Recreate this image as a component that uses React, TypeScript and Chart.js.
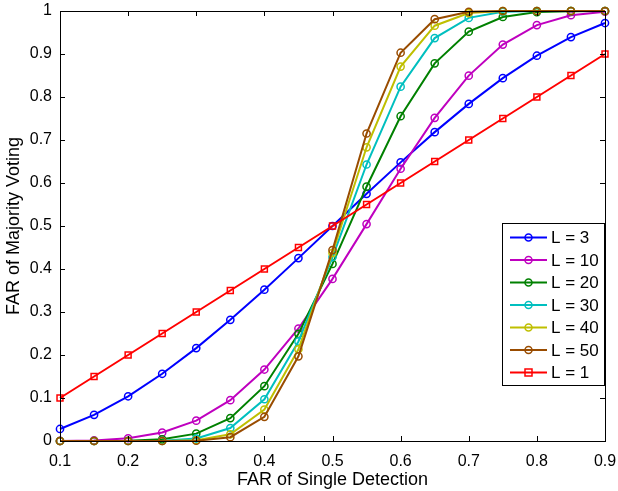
import React, { useEffect, useRef } from "react";
import { Chart, registerables } from "chart.js";

Chart.register(...registerables);

const xValues = [0.1, 0.15, 0.2, 0.25, 0.3, 0.35, 0.4, 0.45, 0.5, 0.55, 0.6, 0.65, 0.7, 0.75, 0.8, 0.85, 0.9];
const seriesL3 = [0.028, 0.0608, 0.104, 0.1563, 0.216, 0.2818, 0.352, 0.4253, 0.5, 0.5748, 0.648, 0.7183, 0.784, 0.8438, 0.896, 0.9393, 0.972];
const seriesL10 = [0.0001, 0.0014, 0.0064, 0.0197, 0.0473, 0.0949, 0.1662, 0.2616, 0.377, 0.5044, 0.6331, 0.7515, 0.8497, 0.9219, 0.9672, 0.9901, 0.9984];
const seriesL20 = [0, 0, 0.0006, 0.0039, 0.0171, 0.0532, 0.1275, 0.2493, 0.4119, 0.5914, 0.7553, 0.8782, 0.952, 0.9861, 0.9974, 0.9997, 1];
const seriesL30 = [0, 0, 0, 0.0005, 0.0057, 0.0301, 0.0971, 0.2315, 0.4278, 0.643, 0.824, 0.937, 0.984, 0.998, 1, 1, 1];
const seriesL40 = [0, 0, 0, 0, 0.0017, 0.0156, 0.0732, 0.2133, 0.4373, 0.683, 0.8707, 0.9658, 0.9952, 0.9998, 1, 1, 1];
const seriesL50 = [0, 0, 0, 0, 0.0006, 0.0089, 0.0562, 0.1969, 0.4439, 0.7151, 0.903, 0.981, 0.9983, 1, 1, 1, 1];
const seriesL1 = [0.1, 0.15, 0.2, 0.25, 0.3, 0.35, 0.4, 0.45, 0.5, 0.55, 0.6, 0.65, 0.7, 0.75, 0.8, 0.85, 0.9];

const seriesLabels = ["L = 3", "L = 10", "L = 20", "L = 30", "L = 40", "L = 50", "L = 1"];
const seriesColors = ["#0000ff", "#bf00bf", "#008000", "#00bfbf", "#bfbf00", "#994c00", "#ff0000"];
const seriesMarkers = ["circle", "circle", "circle", "circle", "circle", "circle", "rect"];
const seriesData = [seriesL3, seriesL10, seriesL20, seriesL30, seriesL40, seriesL50, seriesL1];

const xTickValues = [0.1, 0.2, 0.3, 0.4, 0.5, 0.6, 0.7, 0.8, 0.9];
const yTickValues = [0, 0.1, 0.2, 0.3, 0.4, 0.5, 0.6, 0.7, 0.8, 0.9, 1];
const xTitle = "FAR of Single Detection";
const yTitle = "FAR of Majority Voting";

const FONT = "'Liberation Sans', Arial, Helvetica, sans-serif";

const fmt = (v: number) => String(Number(v.toFixed(2)));

const boxPlugin = {
  id: "matlabBox",
  afterDraw(chart: any) {
    const { ctx, chartArea } = chart;
    const { left, right, top, bottom } = chartArea;
    const xs = chart.scales.x;
    const ys = chart.scales.y;
    ctx.save();
    ctx.strokeStyle = "#000";
    ctx.lineWidth = 1;
    const tl = 5;
    ctx.beginPath();
    xTickValues.forEach((v) => {
      const px = Math.round(xs.getPixelForValue(v)) + 0.5;
      ctx.moveTo(px, bottom);
      ctx.lineTo(px, bottom - tl);
      ctx.moveTo(px, top);
      ctx.lineTo(px, top + tl);
    });
    yTickValues.forEach((v) => {
      const py = Math.round(ys.getPixelForValue(v)) + 0.5;
      ctx.moveTo(left, py);
      ctx.lineTo(left + tl, py);
      ctx.moveTo(right, py);
      ctx.lineTo(right - tl, py);
    });
    ctx.stroke();
    ctx.strokeRect(Math.round(left) + 0.5, Math.round(top) + 0.5, Math.round(right - left), Math.round(bottom - top));

    // legend
    const lx = 502.5, ly = 223.5, lw = 102, lh = 162;
    ctx.fillStyle = "#fff";
    ctx.fillRect(lx, ly, lw, lh);
    ctx.strokeStyle = "#000";
    ctx.strokeRect(lx, ly, lw, lh);
    ctx.font = `17px ${FONT}`;
    ctx.textBaseline = "middle";
    ctx.textAlign = "left";
    chart.data.datasets.forEach((ds: any, i: number) => {
      const cy = 237.5 + i * 22.5;
      ctx.strokeStyle = ds.borderColor;
      ctx.lineWidth = 2;
      ctx.beginPath();
      ctx.moveTo(510, cy);
      ctx.lineTo(547, cy);
      ctx.stroke();
      ctx.lineWidth = 1.5;
      ctx.beginPath();
      if (ds.pointStyle === "rect") {
        ctx.rect(528.5 - 3.5, cy - 3.5, 7, 7);
      } else {
        ctx.arc(528.5, cy, 3.5, 0, Math.PI * 2);
      }
      ctx.stroke();
      ctx.fillStyle = "#000";
      ctx.fillText(ds.label, 551, cy + 1);
    });
    ctx.restore();
  },
};

export default function App() {
  const ref = useRef<HTMLCanvasElement>(null);
  useEffect(() => {
    if (!ref.current) return;
    const n = seriesData.length;
    const chart = new Chart(ref.current, {
      type: "line",
      data: {
        datasets: seriesData.map((arr, i) => ({
          label: seriesLabels[i],
          data: arr.map((y, j) => ({ x: xValues[j], y })),
          borderColor: seriesColors[i],
          backgroundColor: "rgba(0,0,0,0)",
          pointBackgroundColor: "rgba(0,0,0,0)",
          pointBorderColor: seriesColors[i],
          pointStyle: seriesMarkers[i],
          pointRadius: seriesMarkers[i] === "rect" ? 4.2 : 3.6,
          pointBorderWidth: 1.5,
          borderWidth: 2,
          tension: 0,
          fill: false,
          clip: false,
          order: n - 1 - i,
        })),
      },
      options: {
        responsive: false,
        animation: false,
        events: [],
        layout: { padding: { left: 0, top: 11, right: 13, bottom: 0 } },
        plugins: { legend: { display: false }, tooltip: { enabled: false } },
        scales: {
          x: {
            type: "linear",
            min: 0.1,
            max: 0.9,
            grid: { display: false, drawTicks: false },
            border: { display: false },
            afterFit: (s: any) => {
              s.height = 50;
              s.paddingLeft = 0;
              s.paddingRight = 0;
            },
            afterBuildTicks: (s: any) => { s.ticks = xTickValues.map((v) => ({ value: v })); },
            ticks: {
              color: "#000",
              font: { family: FONT, size: 16 },
              padding: 11,
              maxRotation: 0,
              autoSkip: false,
              callback: (v: any) => fmt(Number(v)),
            },
            title: {
              display: true,
              text: xTitle,
              color: "#000",
              font: { family: FONT, size: 18 },
              padding: { top: 4, bottom: 0 },
            },
          },
          y: {
            type: "linear",
            min: 0,
            max: 1,
            grid: { display: false, drawTicks: false },
            border: { display: false },
            afterFit: (s: any) => {
              s.width = 60;
              s.paddingTop = 0;
              s.paddingBottom = 0;
            },
            afterBuildTicks: (s: any) => { s.ticks = yTickValues.map((v) => ({ value: v })); },
            ticks: {
              color: "#000",
              font: { family: FONT, size: 16 },
              padding: 8,
              autoSkip: false,
              callback: (v: any) => fmt(Number(v)),
            },
            title: {
              display: true,
              text: yTitle,
              color: "#000",
              font: { family: FONT, size: 18 },
              padding: { top: 3, bottom: 0 },
            },
          },
        },
      },
      plugins: [boxPlugin],
    });
    return () => chart.destroy();
  }, []);
  return (
    <div style={{ position: "fixed", left: 0, top: 0, width: 618, height: 491, background: "#fff" }}>
      <canvas ref={ref} width={618} height={491} />
    </div>
  );
}
